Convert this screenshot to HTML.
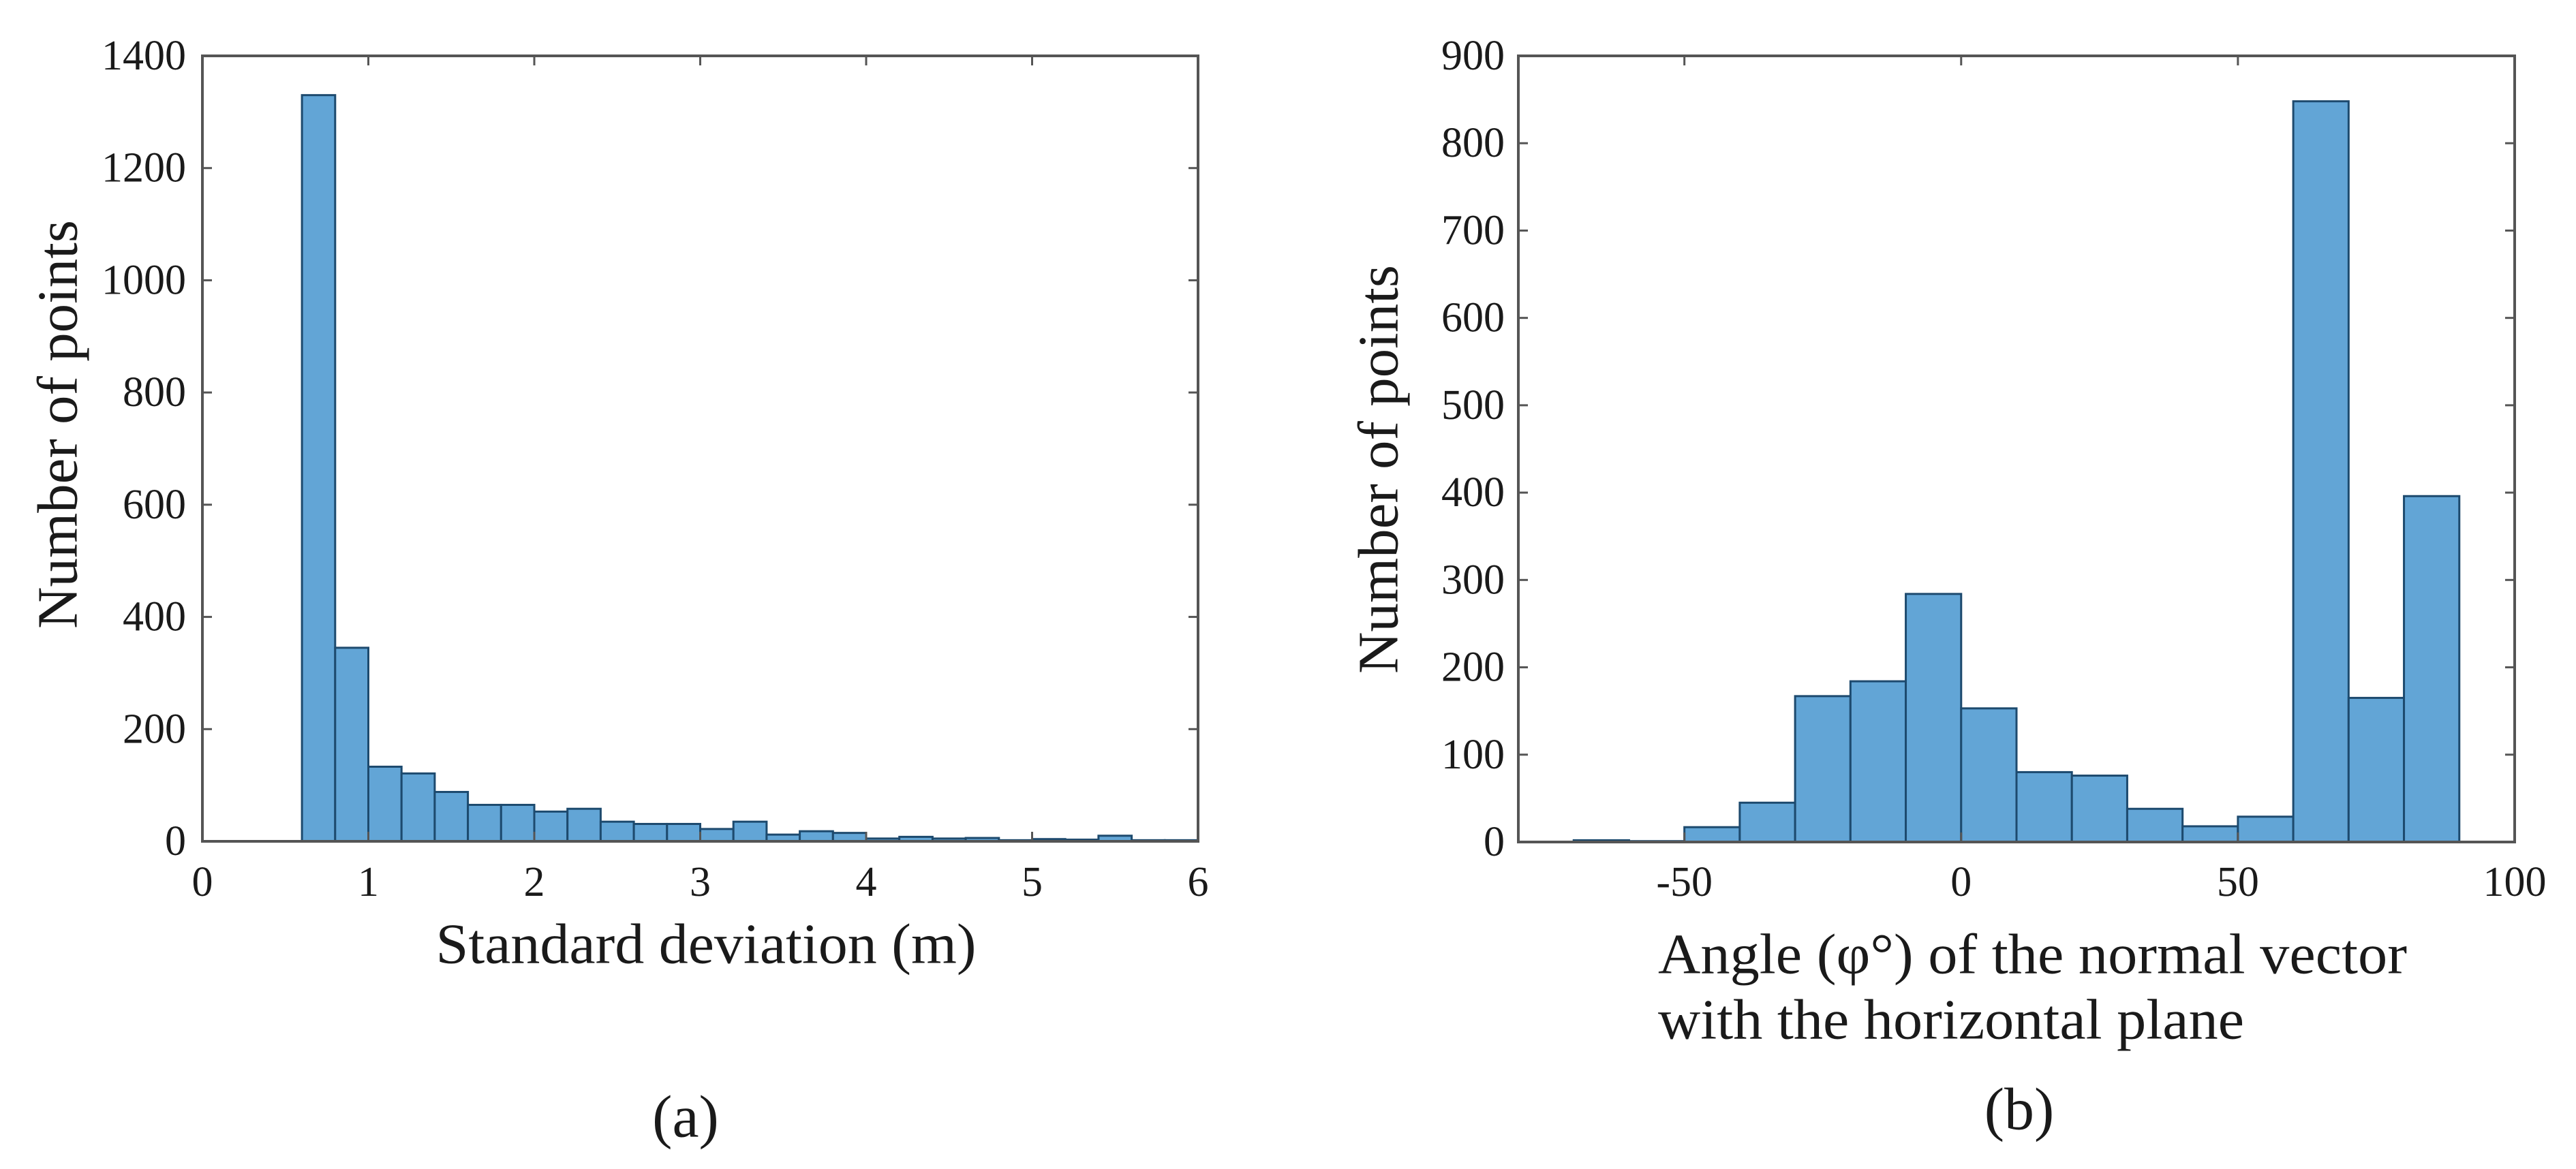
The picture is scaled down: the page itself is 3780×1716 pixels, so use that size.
<!DOCTYPE html>
<html>
<head>
<meta charset="utf-8">
<style>
  html, body { margin:0; padding:0; background:#ffffff; }
  svg { display:block; }
  text { font-family: "Liberation Serif", "DejaVu Serif", serif; fill:#1a1a1a; }
</style>
</head>
<body>
<svg id="fig" width="3780" height="1716" viewBox="0 0 3780 1716" xmlns="http://www.w3.org/2000/svg">
  <rect x="0" y="0" width="3780" height="1716" fill="#ffffff"/>
  <g id="chartA"></g>
  <g id="chartB"></g>
</svg>
<script>
// ---- Chart (a) data ----
const aBinStart = 0.6;
const aBinWidth = 0.2;
const aCounts = [1330, 345, 133, 121, 88, 65, 65, 53, 58, 35, 31, 31, 22, 35, 12, 18, 15, 5, 8, 5, 6, 2, 4, 3, 10, 2, 2];
const aXTicks = [0, 1, 2, 3, 4, 5, 6];
const aYTicks = [0, 200, 400, 600, 800, 1000, 1200, 1400];

// ---- Chart (b) data ----
const bBinStart = -70;
const bBinWidth = 10;
const bCounts = [2, 1, 17, 45, 167, 184, 284, 153, 80, 76, 38, 18, 29, 848, 165, 396];
const bXTicks = [-50, 0, 50, 100];
const bYTicks = [0, 100, 200, 300, 400, 500, 600, 700, 800, 900];

const NS = 'http://www.w3.org/2000/svg';
function mk(tag, attrs, parent) {
  const el = document.createElementNS(NS, tag);
  for (const k in attrs) el.setAttribute(k, attrs[k]);
  parent.appendChild(el);
  return el;
}

function drawChart(g, cfg) {
  const L = cfg.left, R = cfg.right, T = cfg.top, B = cfg.bottom;
  const xs = v => L + (v - cfg.xmin) / (cfg.xmax - cfg.xmin) * (R - L);
  const ys = v => B - (v - cfg.ymin) / (cfg.ymax - cfg.ymin) * (B - T);

  // bars
  cfg.counts.forEach((c, i) => {
    const x0 = xs(cfg.binStart + i * cfg.binWidth);
    const x1 = xs(cfg.binStart + (i + 1) * cfg.binWidth);
    const r = mk('rect', { x: x0, y: ys(c), width: x1 - x0, height: ys(0) - ys(c),
      fill: '#62a5d6', stroke: '#1d4a6e', 'stroke-width': 3 }, g);
    
    
  });

  // axes box
  const box = mk('rect', { x: L, y: T, width: R - L, height: B - T, fill: 'none', stroke: '#555555', 'stroke-width': 4 }, g);
  
  

  // x ticks
  cfg.xTicks.forEach(t => {
    const x = xs(t);
    mk('line', { x1: x, y1: B, x2: x, y2: B - 14, stroke: '#555', 'stroke-width': 3 }, g);
    mk('line', { x1: x, y1: T, x2: x, y2: T + 14, stroke: '#555', 'stroke-width': 3 }, g);
    const tx = mk('text', { x: x, y: cfg.xLabelY, 'font-size': 62, 'text-anchor': 'middle', 'dominant-baseline': 'central' }, g);
    tx.textContent = t;
    
    
  });
  // y ticks
  cfg.yTicks.forEach(t => {
    const y = ys(t);
    mk('line', { x1: L, y1: y, x2: L + 14, y2: y, stroke: '#555', 'stroke-width': 3 }, g);
    mk('line', { x1: R, y1: y, x2: R - 14, y2: y, stroke: '#555', 'stroke-width': 3 }, g);
    const ty = mk('text', { x: cfg.yLabelX, y: y, 'font-size': 62, 'text-anchor': 'end', 'dominant-baseline': 'central' }, g);
    ty.textContent = t;
    
    
  });

  // y title
  const yt = mk('text', { x: 0, y: 0, 'font-size': 84, 'text-anchor': 'middle', 'dominant-baseline': 'central',
    transform: 'translate(' + cfg.yTitleX + ',' + cfg.yTitleY + ') rotate(-90)', textLength: 600, lengthAdjust: 'spacingAndGlyphs' }, g);
  yt.textContent = 'Number of points';
  
  
}

const gA = document.getElementById('chartA');
drawChart(gA, { left: 297, right: 1758, top: 82, bottom: 1235, xmin: 0, xmax: 6, ymin: 0, ymax: 1400,
  counts: aCounts, binStart: aBinStart, binWidth: aBinWidth, xTicks: aXTicks, yTicks: aYTicks,
  xLabelY: 1295, yLabelX: 273, yTitleX: 85, yTitleY: 623 });
const gB = document.getElementById('chartB');
drawChart(gB, { left: 2228, right: 3690, top: 82, bottom: 1236, xmin: -80, xmax: 100, ymin: 0, ymax: 900,
  counts: bCounts, binStart: bBinStart, binWidth: bBinWidth, xTicks: bXTicks, yTicks: bYTicks,
  xLabelY: 1295, yLabelX: 2208, yTitleX: 2023, yTitleY: 689 });

// titles and captions
let t;
t = mk('text', { x: 1036, y: 1386, 'font-size': 84, 'text-anchor': 'middle', 'dominant-baseline': 'central', textLength: 793, lengthAdjust: 'spacingAndGlyphs' }, gA);
t.textContent = 'Standard deviation (m)';



t = mk('text', { x: 1006, y: 1640, 'font-size': 88, 'text-anchor': 'middle', 'dominant-baseline': 'central' }, gA);
t.textContent = '(a)';



t = mk('text', { x: 2433, y: 1401, 'font-size': 84, 'text-anchor': 'start', 'dominant-baseline': 'central', textLength: 1099, lengthAdjust: 'spacingAndGlyphs' }, gB);
t.textContent = 'Angle (φ°) of the normal vector';



t = mk('text', { x: 2433, y: 1497, 'font-size': 84, 'text-anchor': 'start', 'dominant-baseline': 'central', textLength: 860, lengthAdjust: 'spacingAndGlyphs' }, gB);
t.textContent = 'with the horizontal plane';



t = mk('text', { x: 2963, y: 1629, 'font-size': 88, 'text-anchor': 'middle', 'dominant-baseline': 'central' }, gB);
t.textContent = '(b)';


</script>
</body>
</html>
